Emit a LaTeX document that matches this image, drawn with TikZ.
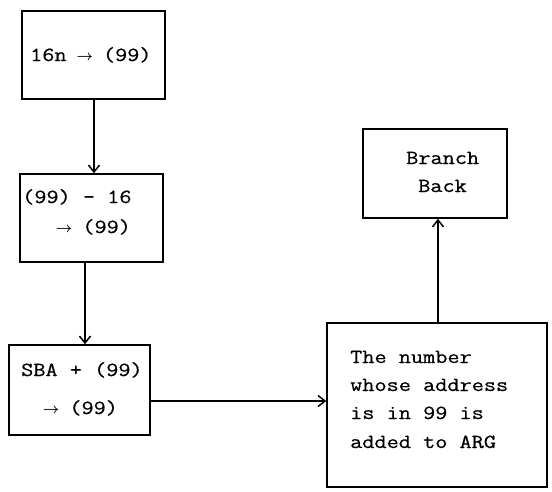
\documentclass[tikz,border=0pt]{standalone}
\usepackage{fontspec}
\newfontfamily\tw{Latin Modern Mono}[FakeStretch=1.18,FakeBold=0.6]
\usetikzlibrary{arrows.meta}
\newcommand{\rar}{\makebox[12pt]{\raisebox{1pt}{$\scriptstyle\boldsymbol{\rightarrow}$}}}
\usepackage{amsmath,amsbsy}
\begin{document}
\begin{tikzpicture}[x=1pt,y=-1pt,
  box/.style={draw, line width=1.5pt, inner sep=0pt},
  txt/.style={anchor=base west, inner sep=0pt, font=\tw\fontsize{20}{24}\selectfont},
  arr/.style={line width=1.5pt, -{Straight Barb[length=7pt,width=11pt,line width=1.5pt]}}]
\useasboundingbox (0,0) rectangle (552,491);
% boxes
\node[box, minimum width=143pt, minimum height=88pt] (b1) at (93.5,55) {};
\node[box, minimum width=143pt, minimum height=88pt] (b2) at (91.5,218) {};
\node[box, minimum width=141pt, minimum height=90pt] (b3) at (79.5,390) {};
\node[box, minimum width=220pt, minimum height=164pt] (b4) at (437,405) {};
\node[box, minimum width=144pt, minimum height=89pt] (b5) at (435,173.5) {};
% texts
\node[txt] (t1) at (30,61) {16n \rar{} (99)};
\node[txt] (t2a) at (22,203) {(99) - 16};
\node[txt] (t2b) at (58,233) {\rar{} (99)};
\node[txt] (t3a) at (21,376) {SBA + (99)};
\node[txt] (t3b) at (45,414) {\rar{} (99)};
\node[txt] (t5a) at (406,164) {Branch};
\node[txt] (t5b) at (418,192) {Back};
\node[txt] (t4a) at (350,363) {The number};
\node[txt] (t4b) at (350,391) {whose address};
\node[txt] (t4c) at (350,419) {is in 99 is};
\node[txt] (t4d) at (350,448) {added to ARG};
% connectors
\coordinate (c12) at (94,0);
\coordinate (c23) at (85,0);
\coordinate (c34) at (0,401);
\coordinate (c45) at (438,0);
\draw[arr] (b1.south -| c12) -- (b2.north -| c12);
\draw[arr] (b2.south -| c23) -- (b3.north -| c23);
\draw[arr] (b3.east |- c34) -- (b4.west |- c34);
\draw[arr] (b4.north -| c45) -- (b5.south -| c45);
\end{tikzpicture}
\end{document}
